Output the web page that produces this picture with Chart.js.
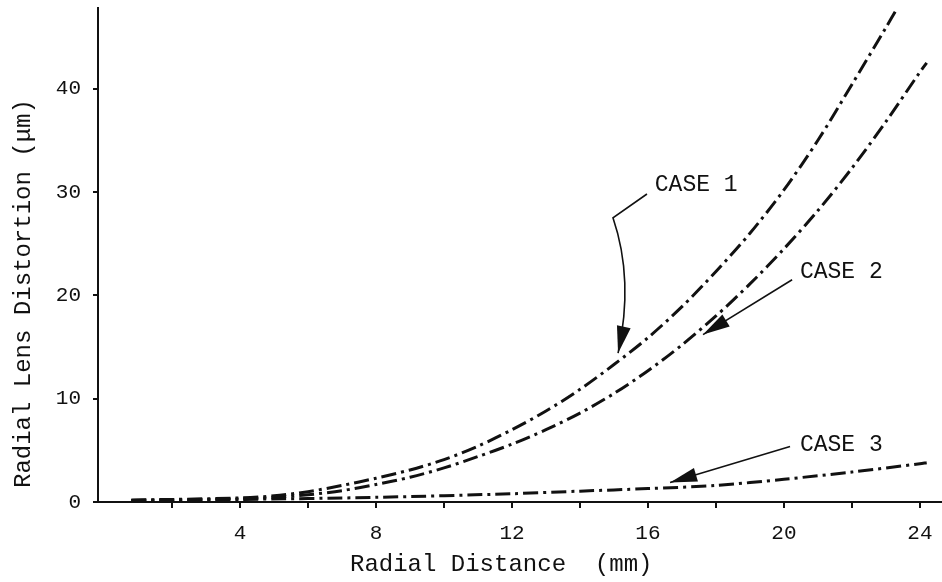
<!DOCTYPE html>
<html>
<head>
<meta charset="utf-8">
<script src="https://cdn.jsdelivr.net/npm/chart.js@4/dist/chart.umd.min.js"></script>
<style>
  html, body { margin: 0; padding: 0; background: #fff; }
  #wrap { width: 942px; height: 582px; }
</style>
</head>
<body>
<div id="wrap"><canvas id="distChart" width="942" height="582"></canvas></div>
<script>
// Radial distance (mm) and distortion (um)
const case1X = [0.8, 2, 4, 5, 6, 7, 8, 9, 10, 11, 12, 13, 14, 15, 16, 17, 18, 19, 20, 21, 22, 23, 23.3];
const case1Y = [0.2, 0.25, 0.4, 0.6, 1.0, 1.6, 2.3, 3.1, 4.1, 5.4, 7.0, 8.8, 10.9, 13.3, 15.9, 18.9, 22.3, 26.0, 30.2, 35.0, 40.4, 45.9, 47.6];

const case2X = [0.8, 2, 4, 5, 6, 7, 8, 9, 10, 11, 12, 13, 14, 15, 16, 17, 18, 19, 20, 21, 22, 23, 24, 24.2];
const case2Y = [0.15, 0.2, 0.3, 0.45, 0.7, 1.1, 1.7, 2.4, 3.3, 4.4, 5.6, 7.0, 8.6, 10.5, 12.7, 15.2, 18.0, 21.1, 24.5, 28.2, 32.3, 36.8, 41.6, 42.5];

const case3X = [0.8, 4, 8, 12, 14, 16, 18, 20, 22, 24, 24.2];
const case3Y = [0.15, 0.25, 0.45, 0.8, 1.05, 1.3, 1.6, 2.2, 2.9, 3.7, 3.8];

const xTickValues = [2, 4, 6, 8, 10, 12, 14, 16, 18, 20, 22, 24];
const xTickLabels = ['', '4', '', '8', '', '12', '', '16', '', '20', '', '24'];
const yTickValues = [0, 10, 20, 30, 40];

const xTitle = 'Radial Distance  (mm)';
const yTitle = 'Radial Lens Distortion (μm)';

// callouts: label text, label anchor, arrow path (data units), last point is the tip
const callouts = [
  { text: 'CASE 1', at: [16.2, 30.7], path: [[15.97, 29.8], [14.97, 27.5], [15.59, 21.5], [15.12, 14.4]], curved: true },
  { text: 'CASE 2', at: [20.47, 22.3], path: [[20.24, 21.5], [17.62, 16.2]] },
  { text: 'CASE 3', at: [20.47, 5.56], path: [[20.18, 5.36], [16.65, 1.88]] }
];

const ink = '#111';
const mono = "'Liberation Mono', 'DejaVu Sans Mono', monospace";

function pts(xs, ys) {
  return xs.map((x, i) => ({ x: x, y: ys[i] }));
}

function series(label, xs, ys) {
  return {
    label: label,
    data: pts(xs, ys),
    showLine: true,
    borderColor: ink,
    borderWidth: 3,
    borderDash: [15, 5, 3, 5],
    pointRadius: 0,
    tension: 0.3,
    fill: false
  };
}

const calloutPlugin = {
  id: 'callouts',
  afterDatasetsDraw(chart) {
    const ctx = chart.ctx;
    const xs = chart.scales.x, ys = chart.scales.y;
    const area = chart.chartArea;
    const px = p => [xs.getPixelForValue(p[0]), ys.getPixelForValue(p[1])];
    ctx.save();
    ctx.strokeStyle = ink;
    ctx.fillStyle = ink;
    ctx.lineWidth = 1.6;
    callouts.forEach(c => {
      const p = c.path.map(px);
      ctx.beginPath();
      ctx.moveTo(p[0][0], p[0][1]);
      if (c.curved) {
        ctx.lineTo(p[1][0], p[1][1]);
        ctx.quadraticCurveTo(p[2][0], p[2][1], p[3][0], p[3][1]);
      } else {
        for (let i = 1; i < p.length; i++) ctx.lineTo(p[i][0], p[i][1]);
      }
      ctx.stroke();
      // arrow head
      const tip = p[p.length - 1];
      const prev = p[p.length - 2];
      const ang = Math.atan2(tip[1] - prev[1], tip[0] - prev[0]);
      const len = 27, half = 7;
      ctx.beginPath();
      ctx.moveTo(tip[0], tip[1]);
      ctx.lineTo(tip[0] - len * Math.cos(ang) + half * Math.sin(ang), tip[1] - len * Math.sin(ang) - half * Math.cos(ang));
      ctx.lineTo(tip[0] - len * Math.cos(ang) - half * Math.sin(ang), tip[1] - len * Math.sin(ang) + half * Math.cos(ang));
      ctx.closePath();
      ctx.fill();
      // label
      const a = px(c.at);
      ctx.font = '23px ' + mono;
      ctx.textAlign = 'left';
      ctx.textBaseline = 'middle';
      ctx.fillText(c.text, a[0], a[1]);
    });

    // axis titles, placed like the typed originals (a bit left / low of centre)
    ctx.font = '24px ' + mono;
    ctx.textBaseline = 'middle';
    ctx.textAlign = 'left';
    ctx.fillText(xTitle, area.left + 252, area.bottom + 63);
    ctx.translate(24, area.bottom - 14);
    ctx.rotate(-Math.PI / 2);
    ctx.fillText(yTitle, 0, 0);
    ctx.restore();
  }
};

const ctx = document.getElementById('distChart').getContext('2d');
const distChart = new Chart(ctx, {
  type: 'scatter',
  data: {
    datasets: [
      series('CASE 1', case1X, case1Y),
      series('CASE 2', case2X, case2Y),
      series('CASE 3', case3X, case3Y)
    ]
  },
  options: {
    responsive: false,
    animation: false,
    layout: { padding: { top: 8, right: 0, left: 0, bottom: 0 } },
    plugins: {
      legend: { display: false },
      tooltip: { enabled: false }
    },
    scales: {
      x: {
        type: 'linear',
        min: -0.18,
        max: 24.65,
        afterBuildTicks: s => { s.ticks = xTickValues.map(v => ({ value: v })); },
        afterFit: s => { s.height = 80; s.paddingLeft = 0; s.paddingRight = 0; },
        grid: { drawOnChartArea: false, drawTicks: true, tickLength: 6, color: ink, lineWidth: 2 },
        border: { color: ink, width: 2 },
        ticks: {
          color: ink,
          padding: 13,
          font: { family: mono, size: 21 },
          maxRotation: 0,
          autoSkip: false,
          callback: (v, i) => xTickLabels[i]
        }
      },
      y: {
        type: 'linear',
        min: 0,
        max: 47.8,
        afterBuildTicks: s => { s.ticks = yTickValues.map(v => ({ value: v })); },
        afterFit: s => { s.width = 98; s.paddingTop = 0; s.paddingBottom = 0; },
        grid: { drawOnChartArea: false, drawTicks: true, tickLength: 5, color: ink, lineWidth: 2 },
        border: { color: ink, width: 2 },
        ticks: {
          color: ink,
          padding: 12,
          font: { family: mono, size: 21 },
          autoSkip: false
        }
      }
    }
  },
  plugins: [calloutPlugin]
});
</script>
</body>
</html>
